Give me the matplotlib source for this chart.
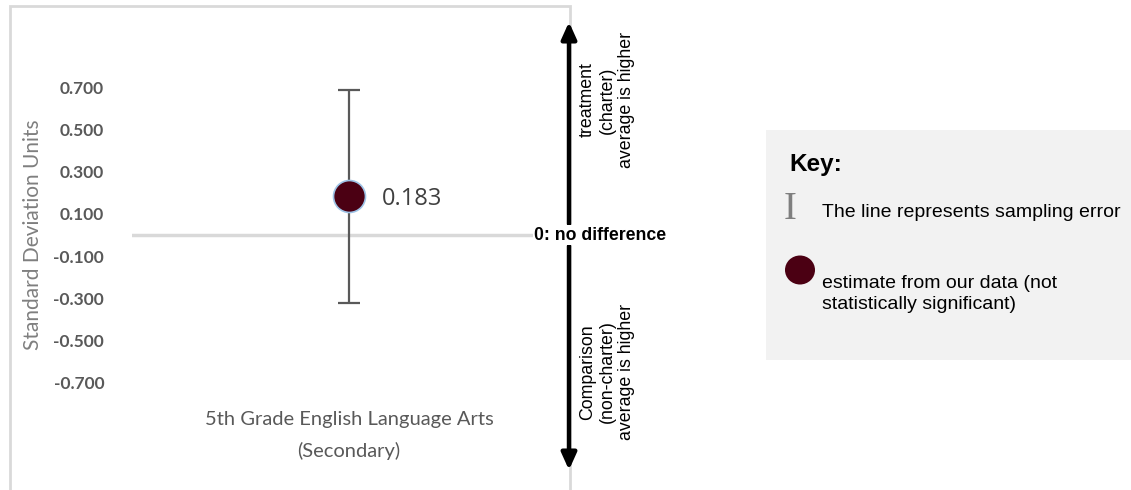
import matplotlib.pyplot as plt
from matplotlib.patches import Rectangle, Ellipse

# data
categories = ['5th Grade English Language Arts\n(Secondary)']
estimates = [0.183]
ci_low = [-0.322]
ci_high = [0.688]
yticks = [-0.7, -0.5, -0.3, -0.1, 0.1, 0.3, 0.5, 0.7]

W, H = 1131, 490
fig = plt.figure(figsize=(W / 100, H / 100), dpi=100)


def fx(px):
    return px / W


def fy(py):
    return 1 - py / H


# main axes (pixel box 132..566 horizontally, 40..400 vertically)
ax = fig.add_axes([fx(132), fy(400), fx(566) - fx(132), (400 - 40) / H])
ax.set_xlim(-0.5, 0.5)
ax.set_ylim(-0.783, 0.925)

ax.axhline(0, color='#d9d9d9', lw=2.5, zorder=1)

x = list(range(len(categories)))
err_lo = [e - l for e, l in zip(estimates, ci_low)]
err_hi = [h - e for e, h in zip(estimates, ci_high)]
ax.errorbar(x, estimates, yerr=[err_lo, err_hi], fmt='none', ecolor='#595959',
            elinewidth=1.6, capsize=8, capthick=1.6, zorder=2)
ax.plot(x, estimates, 'o', ms=23, mfc='#4b0013', mec='#9dc3e6', mew=1.2, zorder=3)
for xi, e in zip(x, estimates):
    ax.annotate(f'{e:.3f}', (xi, e), xytext=(24, -2), textcoords='offset points',
                va='center', ha='left', fontsize=17, color='#404040', family='Open Sans')

ax.set_yticks(yticks)
ax.set_yticklabels([f'{t:.3f}' for t in yticks], family='Lato', fontsize=12.5,
                   color='#595959', fontweight='bold')
ax.set_xticks(x)
ax.set_xticklabels(categories, family='Lato', fontsize=14.5, color='#595959', linespacing=1.95)
ax.tick_params(axis='y', length=0, pad=20)
ax.tick_params(axis='x', length=0, pad=8)
for s in ax.spines.values():
    s.set_visible(False)

# y axis title, placed in figure pixels
fig.text(fx(33), fy(235), 'Standard Deviation Units', rotation=90, ha='center', va='center',
         family='Lato', fontsize=15, color='#7f7f7f')

# overlay in pixel coordinates for frame, arrows and key
ov = fig.add_axes([0, 0, 1, 1], zorder=5)
ov.set_xlim(0, W)
ov.set_ylim(H, 0)
ov.axis('off')
ov.patch.set_alpha(0)

# chart frame
ov.plot([10, 10, 570, 570], [H, 6, 6, H], color='#d9d9d9', lw=2, solid_joinstyle='miter')

# arrows
arrow_kw = dict(arrowstyle='-|>,head_width=0.45,head_length=1.0', color='black', lw=3.2,
                shrinkA=0, shrinkB=0)
ov.annotate('', xy=(569, 22), xytext=(569, 224), arrowprops=arrow_kw)
ov.annotate('', xy=(569, 470), xytext=(569, 246), arrowprops=arrow_kw)
ov.text(600, 235, '0: no difference', ha='center', va='center', fontsize=12.7,
        fontweight='bold', family='Liberation Sans', color='black',
        bbox=dict(facecolor='white', edgecolor='none', pad=1))
ov.text(607, 100, 'treatment\n(charter)\naverage is higher', rotation=90, ha='center',
        va='center', fontsize=12.8, family='Liberation Sans', linespacing=1.2, color='black')
ov.text(607, 372, 'Comparison\n(non-charter)\naverage is higher', rotation=90, ha='center',
        va='center', fontsize=12.8, family='Liberation Sans', linespacing=1.2, color='black')

# key box
ov.add_patch(Rectangle((766, 130), W - 766, 230, facecolor='#f2f2f2', edgecolor='none'))
ov.text(789, 164, 'Key:', ha='left', va='center', fontsize=17.5, fontweight='bold',
        family='Liberation Sans', color='black')
ov.text(784, 209, 'I', ha='left', va='center', fontsize=28, family='Liberation Serif',
        color='#7f7f7f')
ov.text(822, 212, 'The line represents sampling error', ha='left', va='center', fontsize=14,
        family='Liberation Sans', color='black')
ov.add_patch(Ellipse((800, 270), 30, 29, facecolor='#4b0013', edgecolor='none'))
ov.text(822, 275, 'estimate from our data (not\nstatistically significant)', ha='left',
        va='top', fontsize=14, family='Liberation Sans', color='black', linespacing=1.32)

fig.savefig('out.png', dpi=100)
